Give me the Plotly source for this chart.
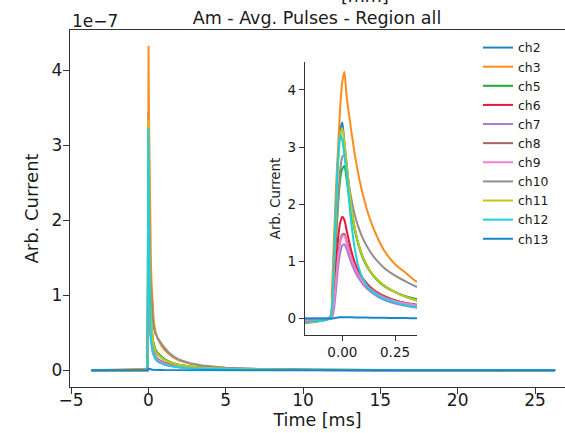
import plotly.graph_objects as go

# time axis [ms]
t_ms = [-3.7, -0.06, -0.05, -0.04, -0.03, -0.02, -0.01, 0.0, 0.01, 0.02, 0.04, 0.06, 0.08, 0.1,
        0.13, 0.16, 0.2, 0.25, 0.3, 0.35, 0.45, 0.6, 0.8, 1.0, 1.3, 1.6, 2.0, 2.7, 3.5, 5.0,
        7.0, 10.0, 15.0, 26.3]

# averaged pulse amplitudes, in units of 1e-7
ch2 = [0, 0, 0.15, 0.95, 2.0, 2.8, 3.3, 3.43, 3.08, 2.72, 2.02, 1.56, 1.26, 1.05,
       0.84, 0.7, 0.57, 0.46, 0.38, 0.32, 0.26, 0.21, 0.17, 0.14, 0.11, 0.09, 0.07, 0.05, 0.034, 0.02,
       0.011, 0.005, 0.002, 0]
ch3 = [0, 0.02, 0.45, 1.35, 2.3, 3.0, 3.7, 4.15, 4.32, 3.9, 3.35, 2.85, 2.45, 2.13,
       1.75, 1.47, 1.18, 0.95, 0.8, 0.65, 0.52, 0.42, 0.34, 0.28, 0.22, 0.17, 0.13, 0.085, 0.055, 0.03,
       0.017, 0.008, 0.003, 0.001]
ch5 = [0, 0, 0.1, 0.6, 1.35, 2.0, 2.45, 2.62, 2.67, 2.45, 1.92, 1.52, 1.24, 1.03,
       0.83, 0.69, 0.56, 0.46, 0.39, 0.34, 0.28, 0.23, 0.19, 0.155, 0.12, 0.095, 0.073, 0.05, 0.035, 0.02,
       0.011, 0.005, 0.002, 0]
ch6 = [0, 0, 0.08, 0.45, 0.95, 1.4, 1.68, 1.78, 1.72, 1.55, 1.22, 0.97, 0.8, 0.69,
       0.56, 0.47, 0.39, 0.32, 0.27, 0.24, 0.19, 0.15, 0.12, 0.1, 0.08, 0.065, 0.05, 0.035, 0.025, 0.014,
       0.008, 0.004, 0.001, 0]
ch7 = [0, 0, 0.0, 0.15, 0.5, 0.9, 1.15, 1.28, 1.3, 1.22, 1.0, 0.82, 0.69, 0.59,
       0.48, 0.4, 0.32, 0.26, 0.22, 0.19, 0.15, 0.115, 0.09, 0.075, 0.06, 0.048, 0.037, 0.026, 0.018, 0.01,
       0.005, 0.002, 0.001, 0]
ch8 = [0, 0, 0.05, 0.3, 0.72, 1.1, 1.37, 1.47, 1.48, 1.36, 1.1, 0.9, 0.76, 0.66,
       0.54, 0.46, 0.38, 0.31, 0.27, 0.24, 0.19, 0.15, 0.12, 0.097, 0.078, 0.063, 0.049, 0.034, 0.024, 0.013,
       0.007, 0.003, 0.001, 0]
ch9 = [0, 0, 0.03, 0.25, 0.66, 1.05, 1.33, 1.44, 1.45, 1.33, 1.08, 0.88, 0.74, 0.64,
       0.52, 0.44, 0.36, 0.3, 0.26, 0.23, 0.18, 0.14, 0.11, 0.09, 0.072, 0.058, 0.045, 0.031, 0.022, 0.012,
       0.006, 0.003, 0.001, 0]
ch10 = [0, 0, 0.2, 0.8, 1.5, 2.1, 2.6, 2.83, 2.85, 2.62, 2.15, 1.8, 1.56, 1.38,
        1.18, 1.03, 0.88, 0.75, 0.65, 0.56, 0.49, 0.43, 0.37, 0.31, 0.24, 0.19, 0.14, 0.095, 0.063, 0.035,
        0.019, 0.009, 0.004, 0.001]
ch11 = [0, 0, 0.15, 0.9, 1.9, 2.7, 3.2, 3.33, 3.08, 2.72, 2.02, 1.56, 1.26, 1.05,
        0.84, 0.7, 0.57, 0.46, 0.38, 0.32, 0.26, 0.21, 0.17, 0.14, 0.11, 0.09, 0.07, 0.05, 0.034, 0.02,
        0.011, 0.005, 0.002, 0]
ch12 = [0, 0, 0.15, 0.95, 2.0, 2.8, 3.22, 3.12, 2.85, 2.55, 1.75, 1.2, 0.86, 0.68,
        0.51, 0.42, 0.34, 0.28, 0.23, 0.2, 0.15, 0.12, 0.095, 0.078, 0.062, 0.05, 0.04, 0.028, 0.02, 0.012,
        0.007, 0.003, 0.001, 0]
ch13 = [0, 0, 0, 0.005, 0.012, 0.018, 0.02, 0.022, 0.022, 0.021, 0.02, 0.018, 0.017, 0.016,
        0.014, 0.012, 0.01, 0.008, 0.006, 0.005, 0.004, 0.003, 0.003, 0.002, 0.002, 0.001, 0.001, 0.001, 0, 0,
        0, 0, 0, 0]

channel_names = ["ch2", "ch3", "ch5", "ch6", "ch7", "ch8", "ch9", "ch10", "ch11", "ch12", "ch13"]
channel_values = [ch2, ch3, ch5, ch6, ch7, ch8, ch9, ch10, ch11, ch12, ch13]
channel_colors = ["#1a87c4", "#ff8b1f", "#22aa33", "#e8173c", "#a77bd0", "#a8655c",
                  "#f27fd0", "#8f8f8f", "#c4c71c", "#1cd0e0", "#1289cc"]

x_ticks = [-5, 0, 5, 10, 15, 20, 25]
x_tick_labels = ["\u22125", "0", "5", "10", "15", "20", "25"]
y_ticks = [0, 1, 2, 3, 4]
inset_x_ticks = [0.0, 0.25]

FONT = "DejaVu Sans"
TXT = "#1a1a1a"
SPINE = "#333333"

fig = go.Figure()
for name, vals, col in zip(channel_names, channel_values, channel_colors):
    fig.add_trace(go.Scatter(x=t_ms, y=vals, mode="lines", name=name,
                             line=dict(color=col, width=2), xaxis="x", yaxis="y"))
for name, vals, col in zip(channel_names, channel_values, channel_colors):
    fig.add_trace(go.Scatter(x=t_ms, y=vals, mode="lines", name=name, showlegend=False,
                             line=dict(color=col, width=2, shape="spline", smoothing=0.6),
                             xaxis="x2", yaxis="y2"))

W, H = 565, 433
L, R, T, B = 70, 0, 30, 46
PH = H - T - B
PW = W - L - R

def px_to_paper_x(px):
    return (px - L) / PW

def px_to_paper_y(py):
    return (H - B - py) / PH

fig.update_layout(
    width=W, height=H,
    margin=dict(l=L, r=R, t=T, b=B),
    paper_bgcolor="white", plot_bgcolor="white",
    font=dict(family=FONT, color=TXT),
    title=dict(text="Am - Avg. Pulses - Region all", x=317 / W, xref="container",
               y=1 - 18 / H, yref="container", xanchor="center", yanchor="middle",
               font=dict(size=17.5, family=FONT, color=TXT)),
    xaxis=dict(domain=[0, 1], range=[-5.07, 26.94], tickvals=x_ticks, ticktext=x_tick_labels,
               showgrid=False, zeroline=False, showline=True, linecolor=SPINE, linewidth=1.3,
               mirror=True, ticks="outside", ticklen=6, tickwidth=1.3, tickcolor=SPINE,
               ticklabelstandoff=-9,
               tickfont=dict(size=17, family=FONT, color=TXT),
               title=dict(text="Time [ms]", font=dict(size=17.5, family=FONT, color=TXT), standoff=4)),
    yaxis=dict(domain=[0, 1], range=[-0.223, 4.533], tickvals=y_ticks,
               showgrid=False, zeroline=False, showline=True, linecolor=SPINE, linewidth=1.3,
               ticks="outside", ticklen=6, tickwidth=1.3, tickcolor=SPINE,
               ticklabelstandoff=-3,
               tickfont=dict(size=17, family=FONT, color=TXT),
               title=dict(text="Arb. Current", font=dict(size=18, family=FONT, color=TXT), standoff=8)),
    xaxis2=dict(domain=[px_to_paper_x(305), px_to_paper_x(417)], range=[-0.177, 0.354],
                anchor="y2", tickvals=inset_x_ticks, tickformat=".2f",
                showgrid=False, zeroline=False, showline=True, linecolor=SPINE, linewidth=1.3,
                ticks="outside", ticklen=5, tickwidth=1.3, tickcolor=SPINE,
                tickfont=dict(size=13.5, family=FONT, color=TXT)),
    yaxis2=dict(domain=[px_to_paper_y(335), px_to_paper_y(62)], range=[-0.29, 4.49],
                anchor="x2", tickvals=y_ticks,
                showgrid=False, zeroline=False, showline=True, linecolor=SPINE, linewidth=1.3,
                ticks="outside", ticklen=5, tickwidth=1.3, tickcolor=SPINE,
                tickfont=dict(size=13.5, family=FONT, color=TXT),
                title=dict(text="Arb. Current", font=dict(size=13.3, family=FONT, color=TXT), standoff=3)),
    legend=dict(x=px_to_paper_x(478), y=px_to_paper_y(33), xanchor="left", yanchor="top",
                bgcolor="rgba(0,0,0,0)", borderwidth=0,
                font=dict(size=12.4, family=FONT, color=TXT), tracegroupgap=0),
    showlegend=True,
)

fig.add_annotation(text="1e\u22127", xref="paper", yref="paper", x=0, y=px_to_paper_y(21),
                   xanchor="left", yanchor="middle", showarrow=False,
                   font=dict(size=17, family=FONT, color=TXT))
fig.add_annotation(text="[mm]", xref="paper", yref="paper", x=px_to_paper_x(365), y=px_to_paper_y(-4),
                   xanchor="center", yanchor="middle", showarrow=False,
                   font=dict(size=17.5, family=FONT, color=TXT))

fig.write_html("out.html")
